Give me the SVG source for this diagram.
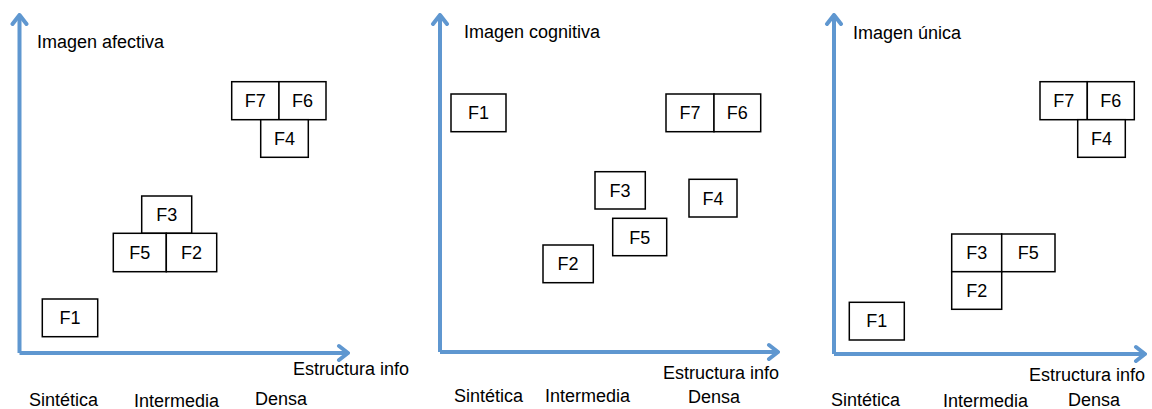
<svg xmlns="http://www.w3.org/2000/svg" width="1152" height="409" viewBox="0 0 1152 409">
<style>
.ax{stroke:#5f97d0;stroke-width:4;fill:none;marker-end:url(#arr)}
.bx{fill:#fff;stroke:#000;stroke-width:1.5}
.t{font-family:"Liberation Sans",Arial,sans-serif;font-size:18px;fill:#000}
.c{text-anchor:middle}
</style>
<defs>
<marker id="arr" markerUnits="userSpaceOnUse" markerWidth="14" markerHeight="20" viewBox="-12 -10 14 20" refX="0" refY="0" orient="auto">
<path d="M-9,-7 L0,0 L-9,7" fill="none" stroke="#5f97d0" stroke-width="4" stroke-linecap="round" stroke-linejoin="round"/>
</marker>
</defs>
<g id="connectors">
<path class="ax" d="M19.5,353 L19.5,15"/>
<path class="ax" d="M19.5,353 L348,353"/>
<path class="ax" d="M440,352 L440,15"/>
<path class="ax" d="M440,352 L778,352"/>
<path class="ax" d="M834,354 L834,15"/>
<path class="ax" d="M834,354 L1145,354"/>
</g>
<g id="panel1">
<text class="t" x="37" y="48">Imagen afectiva</text>
<text class="t" x="293" y="375">Estructura info</text>
<text class="t" x="29" y="406">Sintética</text>
<text class="t" x="134" y="407">Intermedia</text>
<text class="t" x="255" y="405">Densa</text>
<g id="p1-F7"><rect class="bx" x="231.7" y="81.7" width="47.3" height="38"/><text class="t c" x="255.3" y="107">F7</text></g>
<g id="p1-F6"><rect class="bx" x="279" y="81.7" width="47" height="38"/><text class="t c" x="302.5" y="107">F6</text></g>
<g id="p1-F4"><rect class="bx" x="260.7" y="119.7" width="47.6" height="37.6"/><text class="t c" x="284.5" y="145">F4</text></g>
<g id="p1-F3"><rect class="bx" x="141.7" y="196" width="50" height="37.3"/><text class="t c" x="166.7" y="221">F3</text></g>
<g id="p1-F5"><rect class="bx" x="113.3" y="233.3" width="53" height="38.4"/><text class="t c" x="139.8" y="259">F5</text></g>
<g id="p1-F2"><rect class="bx" x="166.3" y="233.3" width="50.4" height="38.4"/><text class="t c" x="191.5" y="259">F2</text></g>
<g id="p1-F1"><rect class="bx" x="42.3" y="299" width="55.4" height="37.7"/><text class="t c" x="70" y="324">F1</text></g>
</g>
<g id="panel2">
<text class="t" x="464" y="38">Imagen cognitiva</text>
<text class="t" x="663" y="379">Estructura info</text>
<text class="t" x="454" y="402">Sintética</text>
<text class="t" x="545" y="402">Intermedia</text>
<text class="t" x="688" y="403">Densa</text>
<g id="p2-F1"><rect class="bx" x="451" y="94" width="55" height="37.7"/><text class="t c" x="478.5" y="119">F1</text></g>
<g id="p2-F7"><rect class="bx" x="666" y="94" width="48" height="37.7"/><text class="t c" x="690" y="119">F7</text></g>
<g id="p2-F6"><rect class="bx" x="714" y="94" width="46.7" height="37.7"/><text class="t c" x="737.3" y="119">F6</text></g>
<g id="p2-F3"><rect class="bx" x="595" y="171.7" width="50.3" height="37.3"/><text class="t c" x="620" y="197">F3</text></g>
<g id="p2-F4"><rect class="bx" x="689" y="179.3" width="48" height="37.7"/><text class="t c" x="713" y="205">F4</text></g>
<g id="p2-F5"><rect class="bx" x="612.7" y="218.3" width="54" height="37.4"/><text class="t c" x="639.7" y="244">F5</text></g>
<g id="p2-F2"><rect class="bx" x="543" y="245" width="50.3" height="37.7"/><text class="t c" x="568" y="270">F2</text></g>
</g>
<g id="panel3">
<text class="t" x="853" y="39">Imagen única</text>
<text class="t" x="1029" y="381">Estructura info</text>
<text class="t" x="831" y="406">Sintética</text>
<text class="t" x="943" y="407">Intermedia</text>
<text class="t" x="1068" y="406">Densa</text>
<g id="p3-F7"><rect class="bx" x="1040" y="81.7" width="47.3" height="38"/><text class="t c" x="1063.7" y="107">F7</text></g>
<g id="p3-F6"><rect class="bx" x="1087.3" y="81.7" width="47" height="38"/><text class="t c" x="1110.8" y="107">F6</text></g>
<g id="p3-F4"><rect class="bx" x="1077.7" y="119.7" width="47.6" height="37.6"/><text class="t c" x="1101.5" y="145">F4</text></g>
<g id="p3-F3"><rect class="bx" x="951.7" y="234" width="50" height="37.7"/><text class="t c" x="976.7" y="259">F3</text></g>
<g id="p3-F5"><rect class="bx" x="1001.7" y="234" width="53.3" height="37.7"/><text class="t c" x="1028.3" y="259">F5</text></g>
<g id="p3-F2"><rect class="bx" x="951.7" y="271.7" width="50" height="37.6"/><text class="t c" x="976.7" y="297">F2</text></g>
<g id="p3-F1"><rect class="bx" x="849.3" y="302.3" width="55" height="37.7"/><text class="t c" x="876.8" y="327">F1</text></g>
</g>
</svg>
